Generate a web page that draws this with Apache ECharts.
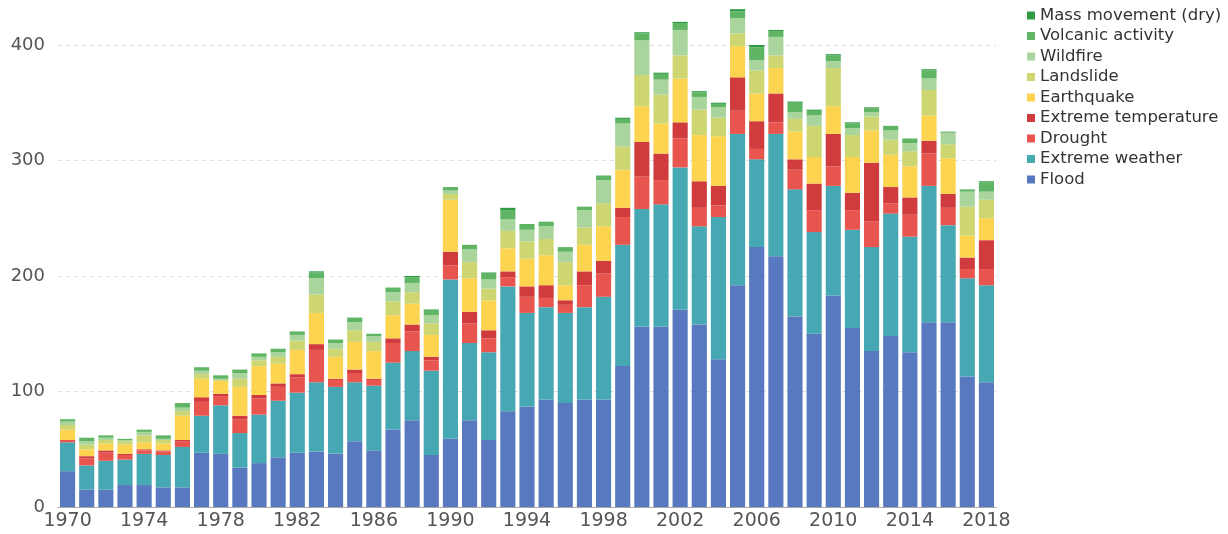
<!DOCTYPE html>
<html><head><meta charset="utf-8">
<script src="https://cdn.jsdelivr.net/npm/echarts@6/dist/echarts.min.js"></script>
<style>html,body{margin:0;padding:0;background:#fff}#c{width:1228px;height:534px}</style>
</head><body><div id="c"></div>
<script>
const years = [];
for (let y = 1970; y <= 2018; y++) years.push(String(y));

const flood = [31,15,15,19,19,17,17,47,46,34, 38,43,47,48,46,57,49,67,75,45, 59,75,58,83,87,93,90,93,93,122, 156,156,171,158,128,192,225,217,165,150, 183,155,135,148,134,160,160,113,108];
const extremeWeather = [25,21,25,22,27,28,35,32,42,30, 42,49,52,60,58,51,56,58,60,73, 138,67,76,108,81,80,78,80,89,105, 102,106,123,85,123,131,76,106,110,88, 95,85,90,106,100,118,84,85,84];
const drought = [2,6,7,4,3,3,5,12,8,12, 14,12,13,28,6,8,5,17,17,9, 12,17,12,8,14,8,7,19,20,24, 28,21,25,16,10,20,9,10,17,19, 17,17,22,9,19,28,15,8,14];
const extremeTemp = [0,2,2,1,1,1,1,4,2,3, 3,3,3,5,1,3,1,4,6,3, 12,10,7,5,9,11,4,12,11,8, 30,23,14,23,17,29,24,25,9,23, 28,15,51,14,15,11,12,10,25];
const earthquake = [9,6,6,8,6,6,21,16,11,25, 25,17,21,27,19,24,24,20,18,19, 45,29,26,20,24,26,13,23,30,33, 31,26,38,40,43,27,24,22,24,23, 24,31,28,28,27,22,31,19,19];
const landslide = [4,4,3,3,6,3,4,4,1,7, 5,6,8,16,7,10,8,12,10,10, 5,14,10,15,15,14,20,15,20,20, 27,25,20,22,16,11,20,11,11,27, 33,19,12,13,13,22,12,25,16];
const wildfire = [3,3,2,1,3,1,3,3,1,5, 3,4,5,14,5,7,5,8,8,7, 3,11,8,10,10,11,9,15,20,20, 30,13,22,11,9,13,9,16,6,9, 6,6,4,8,7,10,10,13,7];
const volcanic = [2,3,2,1,2,3,4,3,3,3, 3,3,3,5,3,4,2,4,5,4, 3,4,5,8,5,4,4,3,4,4, 6,5,6,4,3,6,11,5,8,4, 5,4,3,4,4,7,1,2,8];
const massMovement = [0,0,0,0,0,0,0,0,0,0, 0,0,0,1,0,0,0,0,1,1, 0,0,1,2,0,0,0,0,0,1, 1,1,1,1,1,2,2,1,1,1, 1,1,1,0,0,1,0,0,1];

const seriesNames = ['Flood','Extreme weather','Drought','Extreme temperature','Earthquake','Landslide','Wildfire','Volcanic activity','Mass movement (dry)'];
const seriesData = [flood, extremeWeather, drought, extremeTemp, earthquake, landslide, wildfire, volcanic, massMovement];
const colors = ['#5878bf','#46a8b2','#e8554f','#d03c3e','#fdd450','#cdd670','#a9d59c','#5fb564','#2f9a44'];
const yTicks = [0,100,200,300,400];

const chart = echarts.init(document.getElementById('c'));
chart.setOption({
  animation: false,
  color: colors,
  textStyle: {fontFamily: 'DejaVu Sans, sans-serif'},
  legend: {
    orient: 'vertical', left: 1022, top: 2,
    data: seriesNames.slice().reverse(),
    icon: 'rect', itemWidth: 8, itemHeight: 8, itemGap: 3.5,
    textStyle: {fontSize: 16.5, color: '#333'}
  },
  grid: {left: 58, right: 232, top: 8, bottom: 27, containLabel: false},
  xAxis: {
    type: 'category', data: years,
    axisTick: {show: false},
    axisLine: {lineStyle: {color: '#aaa'}},
    axisLabel: {interval: 3, fontSize: 19, color: '#555', margin: 5}
  },
  yAxis: {
    type: 'value', min: 0, max: 432, interval: 100,
    axisLine: {show: false}, axisTick: {show: false},
    axisLabel: {fontSize: 18, color: '#555', showMaxLabel: false, margin: 13,
      formatter: v => yTicks.includes(v) ? String(v) : ''},
    splitLine: {showMaxLine: false, lineStyle: {type: [4,4], color: '#ddd'}}
  },
  series: seriesNames.map((n, i) => ({
    name: n, type: 'bar', stack: 'total', data: seriesData[i],
    barCategoryGap: '21%'
  }))
});
</script></body></html>
